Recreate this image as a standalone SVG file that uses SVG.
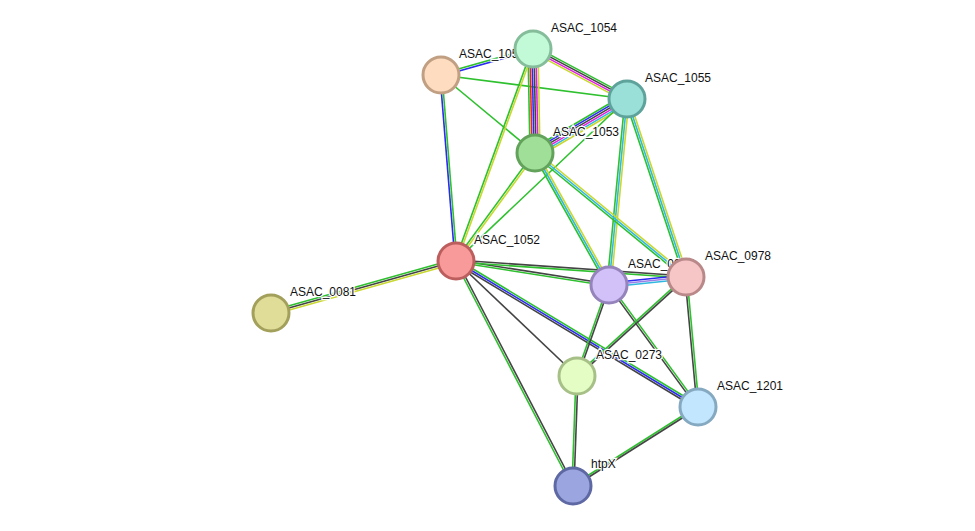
<svg xmlns="http://www.w3.org/2000/svg" width="975" height="531" viewBox="0 0 975 531">
<style>
line{stroke-width:1.6;fill:none}
.g{stroke:#2ec02e}.b{stroke:#2a2af0}.k{stroke:#444}.y{stroke:#c8d830}.m{stroke:#e020e0}.r{stroke:#f02020}.c{stroke:#30b8e0}.p{stroke:#9b7fe8}
circle{stroke-width:3}
text{font-family:"Liberation Sans",Arial,sans-serif;font-size:12px;fill:#111;paint-order:stroke;stroke:#fff;stroke-width:2.5px}
</style>
<rect width="975" height="531" fill="#fff"/>
<g id="connectors">
<line class="g" x1="440.7" y1="74" x2="532.7" y2="48"/><line class="b" x1="441.3" y1="76" x2="533.3" y2="50"/>
<line class="g" x1="441" y1="75" x2="627" y2="99"/>
<line class="g" x1="441" y1="75" x2="535" y2="153"/>
<line class="b" x1="440" y1="75" x2="455" y2="261"/><line class="g" x1="442" y1="75" x2="457" y2="261"/>
<line class="g" x1="528" y1="49" x2="530" y2="153"/><line class="r" x1="530" y1="49" x2="532" y2="153"/><line class="b" x1="532" y1="49" x2="534" y2="153"/><line class="k" x1="534" y1="49" x2="536" y2="153"/><line class="m" x1="536" y1="49" x2="538" y2="153"/><line class="y" x1="538" y1="49" x2="540" y2="153"/>
<line class="g" x1="534.4" y1="46.4" x2="628.4" y2="96.4"/><line class="k" x1="533.5" y1="48.1" x2="627.5" y2="98.1"/><line class="m" x1="532.5" y1="49.9" x2="626.5" y2="99.9"/><line class="y" x1="531.6" y1="51.6" x2="625.6" y2="101.6"/>
<line class="g" x1="532.1" y1="48.7" x2="455.1" y2="260.7"/><line class="y" x1="533.9" y1="49.3" x2="456.9" y2="261.3"/>
<line class="g" x1="624.5" y1="94.7" x2="532.5" y2="148.7"/><line class="b" x1="625.5" y1="96.4" x2="533.5" y2="150.4"/><line class="k" x1="626.5" y1="98.1" x2="534.5" y2="152.1"/><line class="m" x1="627.5" y1="99.9" x2="535.5" y2="153.9"/><line class="c" x1="628.5" y1="101.6" x2="536.5" y2="155.6"/><line class="y" x1="629.5" y1="103.3" x2="537.5" y2="157.3"/>
<line class="g" x1="627" y1="99" x2="456" y2="261"/>
<line class="g" x1="625" y1="99" x2="607" y2="285"/><line class="c" x1="627" y1="99" x2="609" y2="285"/><line class="y" x1="629" y1="99" x2="611" y2="285"/>
<line class="g" x1="625.1" y1="99.6" x2="684.1" y2="277.6"/><line class="c" x1="627" y1="99" x2="686" y2="277"/><line class="y" x1="628.9" y1="98.4" x2="687.9" y2="276.4"/>
<line class="g" x1="534.2" y1="152.4" x2="455.2" y2="260.4"/><line class="y" x1="535.8" y1="153.6" x2="456.8" y2="261.6"/>
<line class="g" x1="533.3" y1="154" x2="607.3" y2="286"/><line class="c" x1="535" y1="153" x2="609" y2="285"/><line class="y" x1="536.7" y1="152" x2="610.7" y2="284"/>
<line class="g" x1="533.7" y1="154.5" x2="684.7" y2="278.5"/><line class="c" x1="535" y1="153" x2="686" y2="277"/><line class="y" x1="536.3" y1="151.5" x2="687.3" y2="275.5"/>
<line class="g" x1="455.5" y1="259.1" x2="270.5" y2="311.1"/><line class="k" x1="456" y1="261" x2="271" y2="313"/><line class="y" x1="456.5" y1="262.9" x2="271.5" y2="314.9"/>
<line class="k" x1="456.2" y1="260" x2="609.2" y2="284"/><line class="g" x1="455.8" y1="262" x2="608.8" y2="286"/>
<line class="k" x1="456" y1="260" x2="686" y2="276"/><line class="g" x1="456" y1="262" x2="686" y2="278"/>
<line class="k" x1="456" y1="261" x2="577" y2="376"/>
<line class="g" x1="457" y1="259.3" x2="699" y2="405.3"/><line class="b" x1="456" y1="261" x2="698" y2="407"/><line class="k" x1="455" y1="262.7" x2="697" y2="408.7"/>
<line class="g" x1="455.1" y1="261.5" x2="572.1" y2="486.5"/><line class="k" x1="456.9" y1="260.5" x2="573.9" y2="485.5"/>
<line class="b" x1="608.8" y1="283" x2="685.8" y2="275"/><line class="p" x1="609" y1="285" x2="686" y2="277"/><line class="c" x1="609.2" y1="287" x2="686.2" y2="279"/>
<line class="g" x1="608.1" y1="284.7" x2="576.1" y2="375.7"/><line class="k" x1="609.9" y1="285.3" x2="577.9" y2="376.3"/>
<line class="g" x1="609.8" y1="284.4" x2="698.8" y2="406.4"/><line class="k" x1="608.2" y1="285.6" x2="697.2" y2="407.6"/>
<line class="g" x1="685.3" y1="276.3" x2="576.3" y2="375.3"/><line class="k" x1="686.7" y1="277.7" x2="577.7" y2="376.7"/>
<line class="k" x1="685" y1="277" x2="697" y2="407"/><line class="g" x1="687" y1="277" x2="699" y2="407"/>
<line class="g" x1="576" y1="376" x2="572" y2="486"/><line class="k" x1="578" y1="376" x2="574" y2="486"/>
<line class="g" x1="697.5" y1="406.2" x2="572.5" y2="485.2"/><line class="k" x1="698.5" y1="407.8" x2="573.5" y2="486.8"/>
</g>
<g id="ASAC_1051"><circle cx="441" cy="75" r="18" fill="#fddcbf" stroke="#c09f82"/><text x="459" y="58">ASAC_1051</text></g>
<g id="ASAC_1054"><circle cx="533" cy="49" r="18" fill="#c2fad8" stroke="#85bd9b"/><text x="551" y="32">ASAC_1054</text></g>
<g id="ASAC_1055"><circle cx="627" cy="99" r="18" fill="#9be0d8" stroke="#5ea39b"/><text x="645" y="82">ASAC_1055</text></g>
<g id="ASAC_1053"><circle cx="535" cy="153" r="18" fill="#a0df98" stroke="#63a25b"/><text x="553" y="136">ASAC_1053</text></g>
<g id="ASAC_1052"><circle cx="456" cy="261" r="18" fill="#f99a9a" stroke="#bd5e5e"/><text x="474" y="244">ASAC_1052</text></g>
<g id="ASAC_0081"><circle cx="271" cy="313" r="18" fill="#e0dd99" stroke="#a3a05c"/><text x="290" y="296">ASAC_0081</text></g>
<g id="ASAC_0977"><circle cx="609" cy="285" r="18" fill="#d2c0f9" stroke="#9583bc"/><text x="628" y="268">ASAC_0977</text></g>
<g id="ASAC_0978"><circle cx="686" cy="277" r="18" fill="#f6c6c6" stroke="#b98989"/><text x="705" y="260">ASAC_0978</text></g>
<g id="ASAC_0273"><circle cx="577" cy="376" r="18" fill="#e4fdc4" stroke="#a7c087"/><text x="596" y="359">ASAC_0273</text></g>
<g id="ASAC_1201"><circle cx="698" cy="407" r="18" fill="#c2e6fd" stroke="#85a9c0"/><text x="717" y="390">ASAC_1201</text></g>
<g id="htpX"><circle cx="573" cy="486" r="18" fill="#9ba5e0" stroke="#5e68a3"/><text x="591" y="468">htpX</text></g>
</svg>
